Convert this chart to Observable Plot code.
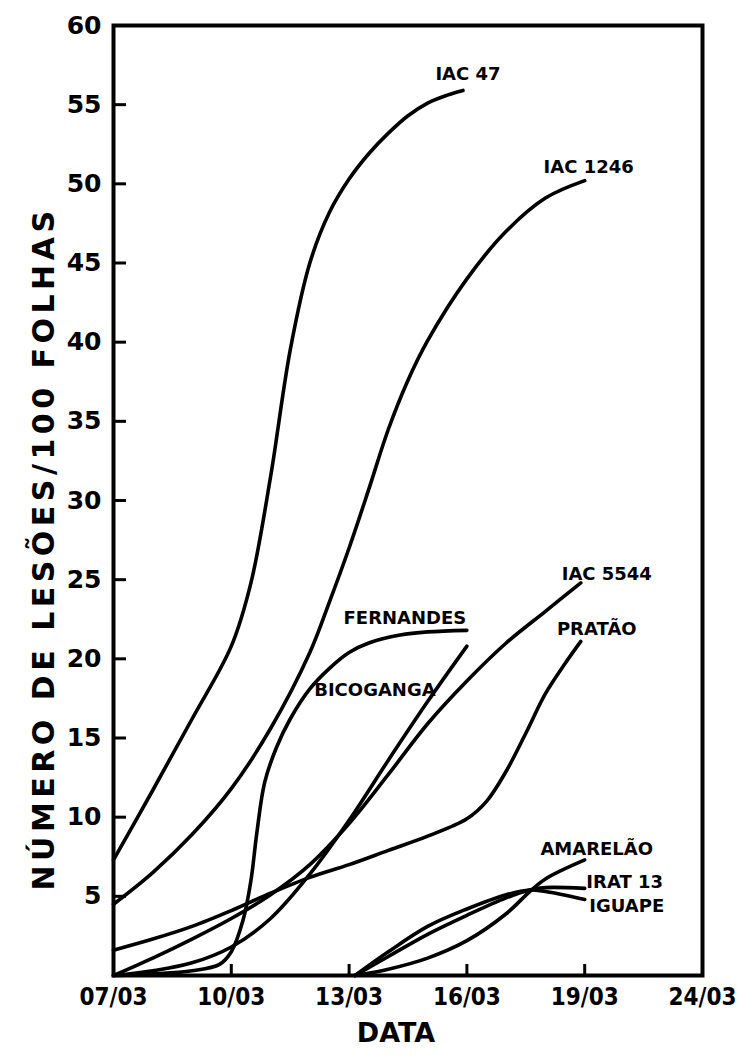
<!DOCTYPE html>
<html>
<head>
<meta charset="utf-8">
<script src="https://cdn.jsdelivr.net/npm/d3@7"></script>
<script src="https://cdn.jsdelivr.net/npm/@observablehq/plot@0.6"></script>
<style>
  html, body { margin: 0; padding: 0; background: #fff; }
  #chart { width: 742px; height: 1064px; }
</style>
</head>
<body>
<div id="chart"></div>
<script>
// ---- data (day of March, lesions / 100 leaves) ----
const tickDays = [7, 10, 13, 16, 19, 22];
const tickLabels = ["07/03", "10/03", "13/03", "16/03", "19/03", "24/03"];
const yTicks = [5, 10, 15, 20, 25, 30, 35, 40, 45, 50, 55, 60];

const iac47 = [[7,7.3],[8,11.7],[9,16.2],[10,20.8],[10.5,24.8],[11,31.5],[11.5,39.5],[12,45],[12.5,48.2],[13,50.3],[13.5,51.9],[14,53.2],[14.5,54.3],[15,55.1],[15.5,55.6],[15.9,55.9]];
const iac1246 = [[7,4.5],[8,6.5],[9,8.9],[10,11.8],[11,15.6],[12,20.4],[12.5,23.6],[13,27],[13.5,30.7],[14,34.5],[14.5,37.6],[15,40.1],[16,44],[17,47],[18,49.1],[19,50.2]];
const fernandes = [[7,0],[8,0.1],[9,0.3],[9.7,0.7],[10,1.5],[10.3,3.5],[10.5,6],[10.65,9],[10.85,12.2],[11.15,14.4],[11.5,16.2],[12,18.1],[12.5,19.4],[13,20.4],[13.5,21],[14.3,21.5],[15,21.7],[16,21.8]];
const bicoganga = [[7,0],[8,0.3],[9,0.8],[10,1.8],[11,3.6],[12,6.4],[13,9.8],[14,13.6],[15,17.3],[16,20.8]];
const iac5544 = [[7,0],[8,1.1],[9,2.3],[10,3.6],[11,5.1],[12,7],[13,9.6],[14,12.7],[15,15.9],[16,18.6],[17,21],[18,23],[18.9,24.8]];
const pratao = [[7,1.6],[8,2.3],[9,3.1],[10,4.1],[11,5.2],[12,6.2],[13,7.0],[14,7.9],[15,8.8],[16,9.9],[16.5,11],[17,12.9],[17.5,15.3],[18,17.8],[18.5,19.7],[18.9,21.1]];
const amarelao = [[13.15,0],[14,0.4],[15,1.1],[16,2.2],[17,3.9],[17.6,5.3],[18,6.1],[19,7.3]];
const irat13 = [[13.15,0],[14,1.2],[15,2.6],[16,3.8],[17,4.9],[17.6,5.4],[18,5.55],[19,5.5]];
const iguape = [[13.15,0],[14,1.5],[15,3.1],[16,4.2],[17,5.1],[17.6,5.4],[18,5.3],[19,4.8]];

const seriesNames = ["IAC 47", "IAC 1246", "FERNANDES", "BICOGANGA", "IAC 5544", "PRATÃO", "AMARELÃO", "IRAT 13", "IGUAPE"];
const seriesValues = [iac47, iac1246, fernandes, bicoganga, iac5544, pratao, amarelao, irat13, iguape];

// label offsets (pixels) from each curve's last point
const labelOffsets = {
  "IAC 47": [5, -16], "IAC 1246": [4, -13], "FERNANDES": [-62, -12], "BICOGANGA": [-92, 44],
  "IAC 5544": [26, -9], "PRATÃO": [16, -12], "AMARELÃO": [12, -11], "IRAT 13": [40, -6], "IGUAPE": [42, 7]
};

const rows = seriesNames.flatMap((name, i) => seriesValues[i].map(([day, value]) => ({series: name, day, value})));
const ends = seriesNames.map((name, i) => {
  const last = seriesValues[i][seriesValues[i].length - 1];
  return {series: name, day: last[0], value: last[1]};
});

const W = 742, H = 1064, mL = 113, mR = 40, mT = 25, mB = 89;
const frameW = W - mL - mR, frameH = H - mT - mB;

const labelMarks = ends.map(e => Plot.text([e], {
  x: "day", y: "value", text: "series",
  dx: labelOffsets[e.series][0], dy: labelOffsets[e.series][1],
  fontSize: 18, fontWeight: "bold", fontFamily: "DejaVu Sans", fill: "black"
}));

const chart = Plot.plot({
  width: W,
  height: H,
  marginLeft: mL,
  marginRight: mR,
  marginTop: mT,
  marginBottom: mB,
  style: {fontFamily: "DejaVu Sans", background: "white", color: "black", overflow: "visible"},
  x: {domain: [7, 22]},
  y: {domain: [0, 60]},
  marks: [
    Plot.line(rows, {x: "day", y: "value", z: "series", curve: "catmull-rom", stroke: "black", strokeWidth: 3.6, strokeLinecap: "round", strokeLinejoin: "round"}),
    // inward tick marks
    Plot.ruleY(yTicks, {y: d => d, insetRight: frameW - 13, stroke: "black", strokeWidth: 3}),
    Plot.ruleX(tickDays, {x: d => d, insetTop: frameH - 11, stroke: "black", strokeWidth: 3}),
    Plot.frame({stroke: "black", strokeWidth: 4}),
    Plot.axisY({ticks: yTicks, tickSize: 0, tickPadding: 12, label: null, fontSize: 25, fontWeight: "bold", fontFamily: "DejaVu Sans"}),
    Plot.axisX({ticks: tickDays, tickFormat: d => tickLabels[tickDays.indexOf(d)], tickSize: 0, tickPadding: 12, label: null, fontSize: 24, fontWeight: "bold", fontFamily: "DejaVu Sans Condensed, Liberation Sans Narrow, DejaVu Sans"}),
    Plot.text(["NÚMERO DE LESÕES/100 FOLHAS"], {frameAnchor: "left", textAnchor: "middle", lineAnchor: "middle", rotate: -90, dx: -69, dy: 48, fontSize: 30, fontWeight: "bold", fill: "black"}),
    Plot.text(["DATA"], {frameAnchor: "bottom", textAnchor: "middle", lineAnchor: "middle", dx: -12, dy: 58, fontSize: 27, fontWeight: "bold", fill: "black"}),
    ...labelMarks
  ]
});

d3.select(chart).selectAll("text").filter(function() { return this.textContent === "NÚMERO DE LESÕES/100 FOLHAS"; })
  .style("letter-spacing", "4.5px");

document.getElementById("chart").appendChild(chart);
</script>
</body>
</html>
